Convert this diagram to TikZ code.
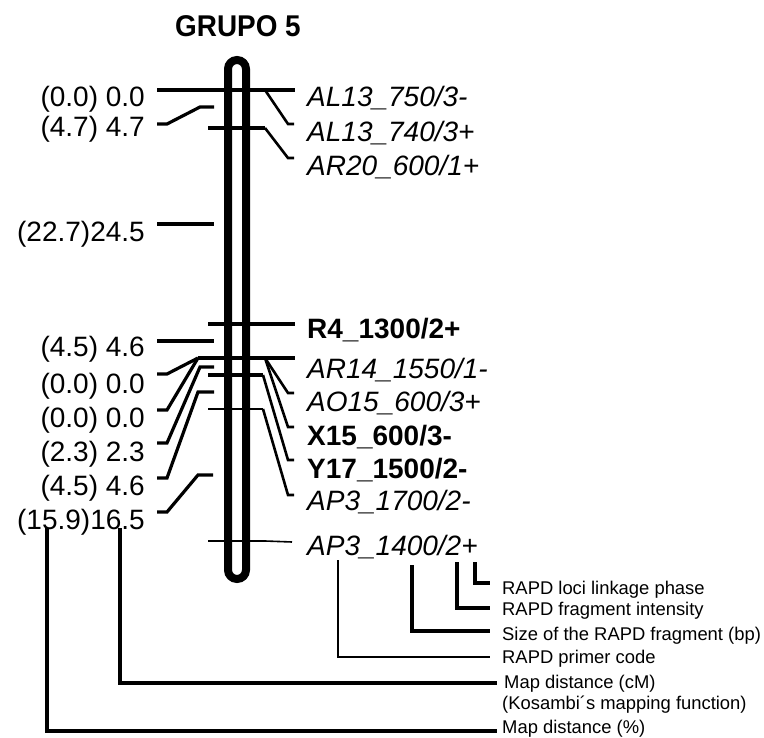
\documentclass[tikz,border=0pt]{standalone}
\usepackage{fontspec}
\setmainfont{Liberation Sans}
\begin{document}
\begin{tikzpicture}[x=1pt,y=-1pt,
  ln/.style={line width=3.2pt},
  lnthin/.style={line width=2.6pt},
  dist/.style={inner sep=0pt, anchor=base east, font=\fontsize{28}{33}\selectfont},
  mki/.style={inner sep=0pt, anchor=base west, font=\fontsize{28}{33}\selectfont\itshape},
  mkb/.style={inner sep=0pt, anchor=base west, font=\fontsize{28}{33}\selectfont\bfseries},
  note/.style={inner sep=0pt, anchor=base west, font=\fontsize{18.4}{22}\selectfont}]
\useasboundingbox (0,0) rectangle (764,738);

% title
\node[inner sep=0pt, anchor=base west, font=\fontsize{30}{34}\selectfont\bfseries] (title) at (175,37) {\scalebox{0.93}[1]{GRUPO 5}};

% chromosome
\draw[line width=8pt, rounded corners=9pt] (228,60) rectangle (246,579);

% left distance labels
\node[dist] (d1) at (145,107) {(0.0) 0.0};
\node[dist] (d2) at (145,137) {(4.7) 4.7};
\node[dist] (d3) at (145,242) {(22.7)24.5};
\node[dist] (d4) at (145,357) {(4.5) 4.6};
\node[dist] (d5) at (145,394) {(0.0) 0.0};
\node[dist] (d6) at (145,428) {(0.0) 0.0};
\node[dist] (d7) at (145,461) {(2.3) 2.3};
\node[dist] (d8) at (145,495) {(4.5) 4.6};
\node[dist] (d9) at (145,529) {(15.9)16.5};

% right marker labels
\node[mki] (m1) at (307,107) {AL13\_750/3-};
\node[mki] (m2) at (307,142) {AL13\_740/3+};
\node[mki] (m3) at (307,176) {AR20\_600/1+};
\node[mkb] (m4) at (307,339) {R4\_1300/2+};
\node[mki] (m5) at (307,378) {AR14\_1550/1-};
\node[mki] (m6) at (307,411) {AO15\_600/3+};
\node[mkb] (m7) at (307,445) {X15\_600/3-};
\node[mkb] (m8) at (307,478) {Y17\_1500/2-};
\node[mki] (m9) at (307,510) {AP3\_1700/2-};
\node[mki] (m10) at (307,555) {AP3\_1400/2+};

% loci ticks and connectors
\coordinate (cA) at (198,358);
\coordinate (cB) at (265,358);
\draw[ln] (157,90) -- (295,90);
\draw[lnthin] (265,90) -- (288,124) -- (294,124);
\draw[ln] (157,124) -- (167,124) -- (200,107) -- (214,107);
\draw[ln] (208,128) -- (265,128);
\draw[lnthin] (265,128) -- (288,158) -- (294,158);
\draw[ln] (157,224) -- (214,224);
\draw[ln] (208,324) -- (295,324);
\draw[ln] (157,341) -- (214,341);
\draw[ln] (cA) -- (295,358);
\draw[lnthin] (cB) -- (288,393) -- (294,393);
\draw[lnthin] (cB) -- (288,427) -- (294,427);
\draw[ln] (157,374) -- (167,374) -- (cA);
\draw[ln] (157,410) -- (167,410) -- (cA);
\draw[ln] (157,443) -- (167,443) -- (200,367) -- (214,367);
\draw[ln] (208,375) -- (263,375);
\draw[lnthin] (263,375) -- (288,460) -- (294,460);
\draw[ln] (157,478) -- (167,478) -- (198,392) -- (214,392);
\draw[lnthin] (208,409) -- (263,409);
\draw[lnthin] (263,409) -- (288,495) -- (294,495);
\draw[ln] (157,512) -- (167,512) -- (198,475) -- (213,475);
\draw[lnthin] (208,541) -- (265,541);
\draw[line width=1.6pt] (265,541) -- (292,542);

% legend notes
\node[note] (n1) at (502,594) {RAPD loci linkage phase};
\node[note] (n2) at (502,615) {RAPD fragment intensity};
\node[note] (n3) at (502,640) {Size of the RAPD fragment (bp)};
\node[note] (n4) at (502,663) {RAPD primer code};
\node[note] (n5) at (504,688) {Map distance (cM)};
\node[note] (n6) at (502,709) {(Kosambi´s mapping function)};
\node[note] (n7) at (502,733.5) {Map distance (\%)};

\draw[ln] (475,562) -- (475,583) -- (490,583);
\draw[ln] (457,562) -- (457,608) -- (490,608);
\draw[ln] (412,565) -- (412,631) -- (490,631);
\draw[lnthin] (338,560) -- (338,657) -- (490,657);
\draw[ln] (120,528) -- (120,683) -- (497,683);
\draw[ln] (47,528) -- (47,731) -- (497,731);
\end{tikzpicture}
\end{document}
